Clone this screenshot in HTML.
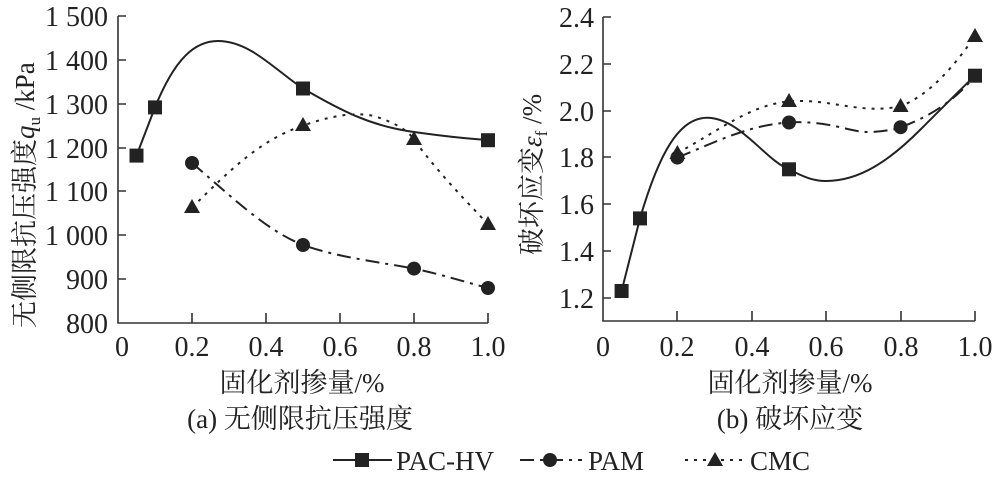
<!DOCTYPE html>
<html><head><meta charset="utf-8"><style>
html,body{margin:0;padding:0;background:#fff;}
svg text{font-family:"Liberation Serif","Noto Serif CJK SC","Noto Sans CJK SC",serif;fill:#222;}
</style></head><body>
<svg width="992" height="478" viewBox="0 0 992 478" xmlns="http://www.w3.org/2000/svg">
<g stroke="#333" stroke-width="1.6" fill="none">
<path d="M118,16 V323 H488"/>
<path d="M118,16 h8 M118,60 h8 M118,104 h8 M118,148 h8 M118,191 h8 M118,235 h8 M118,279 h8"/>
<path d="M192,323 v-10 M266,323 v-10 M340,323 v-10 M414,323 v-10 M488,323 v-10"/>
<path d="M603,17 V321 H975"/>
<path d="M603,17 h8 M603,64 h8 M603,111 h8 M603,157 h8 M603,204 h8 M603,251 h8 M603,298 h8"/>
<path d="M677,321 v-10 M752,321 v-10 M826,321 v-10 M901,321 v-10 M975,321 v-10"/>
</g>
<g fill="none" stroke="#222" stroke-width="2">
<path d="M136.5,155.6 L155,107.4 C175,58 195,41 218,41 C250,41 275,70 303,88.5 C340,110 370,126 414,132 C450,137 470,139 488,140"/>
<path d="M192,207.6 C230,170 260,140 303,125.6 C330,116 360,110 380,118 C400,125 410,133 414,139.7 C440,175 470,205 488,224.3" stroke-dasharray="3,6"/>
<path d="M192,163 C230,195 265,230 303,245 C340,258 380,262 414,268.6 C440,274 465,282 488,288" stroke-dasharray="14,6,3,6"/>
</g>
<g fill="#222">
<rect x="129.5" y="148.6" width="14" height="14"/><rect x="148" y="100.4" width="14" height="14"/><rect x="296" y="81.5" width="14" height="14"/><rect x="481" y="133.2" width="14" height="14"/>
<circle cx="192" cy="163" r="7"/><circle cx="303" cy="245" r="7"/><circle cx="414" cy="268.6" r="7"/><circle cx="488" cy="288" r="7"/>
<path d="M192,199 l8,14 h-16z M303,117 l8,14 h-16z M414,131 l8,14 h-16z M488,216 l8,14 h-16z"/>
</g>
<g fill="none" stroke="#222" stroke-width="2">
<path d="M621.6,291 L640,218.4 C660,150 680,118 707,117.8 C740,118 765,160 789,169.3 C805,178 815,181 826,181 C860,181 890,160 920,130 C945,105 965,85 975,75.7"/>
<path d="M677.4,153 C720,130 750,105 789,101.4 C830,98 860,115 900.6,106.1 C930,95 955,65 975,36" stroke-dasharray="3,6"/>
<path d="M677.4,157.6 C720,140 750,125 789,122.5 C830,120 850,133 871,132 C890,131 900,128 900.6,127.2 C935,115 960,95 975,75.7" stroke-dasharray="14,6,3,6"/>
</g>
<g fill="#222">
<rect x="614.6" y="284" width="14" height="14"/><rect x="633" y="211.4" width="14" height="14"/><rect x="782" y="162.3" width="14" height="14"/><rect x="968" y="68.7" width="14" height="14"/>
<circle cx="677.4" cy="157.6" r="7"/><circle cx="789" cy="122.5" r="7"/><circle cx="900.6" cy="127.2" r="7"/>
<path d="M677.4,145 l8,14 h-16z M789,93 l8,14 h-16z M900.6,98 l8,14 h-16z M975,28 l8,14 h-16z"/>
</g>
<g font-size="28" text-anchor="end">
<text x="108" y="26">1 500</text><text x="108" y="70">1 400</text><text x="108" y="114">1 300</text><text x="108" y="158">1 200</text><text x="108" y="201">1 100</text><text x="108" y="245">1 000</text><text x="108" y="289">900</text><text x="108" y="333">800</text>
</g>
<g font-size="28" text-anchor="middle">
<text x="122" y="356">0</text><text x="192" y="356">0.2</text><text x="266" y="356">0.4</text><text x="340" y="356">0.6</text><text x="414" y="356">0.8</text><text x="488" y="356">1.0</text>
</g>
<g font-size="28" text-anchor="end">
<text x="594" y="27">2.4</text><text x="594" y="74">2.2</text><text x="594" y="121">2.0</text><text x="594" y="167">1.8</text><text x="594" y="214">1.6</text><text x="594" y="261">1.4</text><text x="594" y="308">1.2</text>
</g>
<g font-size="28" text-anchor="middle">
<text x="603" y="356">0</text><text x="677" y="356">0.2</text><text x="752" y="356">0.4</text><text x="826" y="356">0.6</text><text x="901" y="356">0.8</text><text x="975" y="356">1.0</text>
</g>
<text font-size="27" transform="translate(34,328) rotate(-90)">无侧限抗压强度<tspan font-style="italic">q</tspan><tspan font-size="17" dy="6">u</tspan><tspan dy="-6"> /kPa</tspan></text>
<text font-size="27" transform="translate(541,255) rotate(-90)">破坏应变<tspan font-style="italic">ε</tspan><tspan font-size="17" dy="6">f</tspan><tspan dy="-6"> /%</tspan></text>
<g font-size="27" text-anchor="middle">
<text x="302" y="392">固化剂掺量/%</text><text x="300" y="428">(a) 无侧限抗压强度</text>
<text x="790" y="392">固化剂掺量/%</text><text x="790" y="428">(b) 破坏应变</text>
</g>
<g stroke="#222" stroke-width="2" fill="none">
<path d="M333,460 H392"/>
<path d="M520,460 H582" stroke-dasharray="14,6,3,6"/>
<path d="M685,460 H745" stroke-dasharray="3,6"/>
</g>
<g fill="#222">
<rect x="355" y="453" width="14" height="14"/><circle cx="550" cy="460" r="7"/><path d="M715,452 l8,14 h-16z"/>
</g>
<g font-size="27"><text x="396" y="470">PAC-HV</text><text x="588" y="470">PAM</text><text x="750" y="470">CMC</text></g>
</svg>
</body></html>
